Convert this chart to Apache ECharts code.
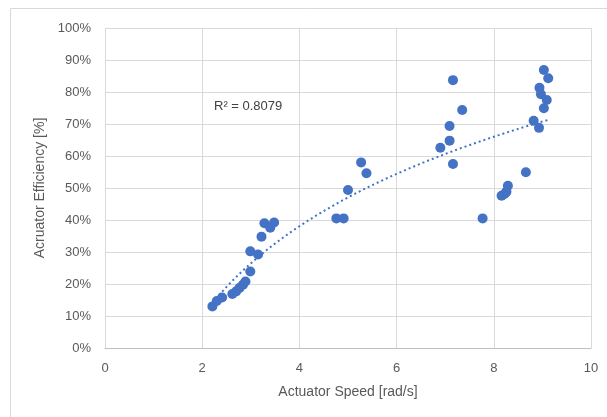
<!DOCTYPE html>
<html>
<head>
<meta charset="utf-8">
<script src="https://cdn.jsdelivr.net/npm/echarts@6/dist/echarts.min.js"></script>
<style>
  html, body { margin: 0; padding: 0; background: #fff; }
  #chart { width: 607px; height: 417px; }
</style>
</head>
<body>
<div id="chart"></div>
<script>
// actuator speed [rad/s] vs efficiency [%]
const speed = [2.21, 2.30, 2.41, 2.62, 2.70, 2.77, 2.84, 2.89, 2.99, 2.99, 3.15, 3.22, 3.28, 3.40, 3.48,
  4.76, 4.91, 5.00, 5.27, 5.38,
  6.90, 7.09, 7.09, 7.16, 7.16, 7.35, 7.77,
  8.16, 8.22, 8.26, 8.29, 8.66, 8.82, 8.93, 8.94, 8.97, 9.03, 9.03, 9.09, 9.12]
const efficiency = [13.0, 14.7, 15.8, 16.9, 17.7, 18.8, 19.8, 20.8, 23.9, 30.2, 29.2, 34.8, 39.0, 37.6, 39.2,
  40.5, 40.5, 49.4, 58.0, 54.6,
  62.6, 69.4, 64.8, 83.7, 57.5, 74.4, 40.5,
  47.6, 48.1, 48.8, 50.7, 54.9, 71.0, 68.8, 81.3, 79.3, 86.9, 74.9, 77.5, 84.3]
const xTicks = [0, 2, 4, 6, 8, 10]
const yTicks = [0, 10, 20, 30, 40, 50, 60, 70, 80, 90, 100]
const r2Label = 'R² = 0.8079'

const points = speed.map((s, i) => [s, efficiency[i]])

// logarithmic trendline y = a*ln(x) + b, least squares on the points
const lx = speed.map(s => Math.log(s))
const n = lx.length
const mx = lx.reduce((p, c) => p + c, 0) / n
const my = efficiency.reduce((p, c) => p + c, 0) / n
let sxy = 0, sxx = 0
lx.forEach((v, i) => { sxy += (v - mx) * (efficiency[i] - my); sxx += (v - mx) * (v - mx) })
const a = sxy / sxx
const b = my - a * mx
const xMin = Math.min(...speed), xMax = Math.max(...speed)
const trend = []
for (let k = 0; k <= 60; k++) {
  const x = xMin + (xMax - xMin) * k / 60
  trend.push([x, a * Math.log(x) + b])
}

const font = '"Liberation Sans", Arial, sans-serif'
const chart = echarts.init(document.getElementById('chart'), null, { renderer: 'canvas' })
chart.setOption({
  animation: false,
  grid: { left: 105, right: 16, top: 28, bottom: 69 },
  graphic: [
    {
      type: 'rect',
      shape: { x: 10.5, y: 8.5, width: 620, height: 430 },
      style: { fill: 'none', stroke: '#d9d9d9', lineWidth: 1 },
      silent: true
    },
    {
      type: 'text',
      left: 214,
      top: 100,
      style: { text: r2Label, fill: '#404040', font: '13px ' + font }
    }
  ],
  xAxis: {
    type: 'value',
    min: xTicks[0],
    max: xTicks[xTicks.length - 1],
    interval: 2,
    name: 'Actuator Speed [rad/s]',
    nameLocation: 'middle',
    nameGap: 37,
    nameTextStyle: { color: '#595959', fontSize: 14, fontFamily: font },
    axisLine: { show: true, lineStyle: { color: '#bfbfbf' } },
    axisTick: { show: false },
    axisLabel: { color: '#595959', fontSize: 13, fontFamily: font, margin: 14 },
    splitLine: { show: true, lineStyle: { color: '#d9d9d9' } }
  },
  yAxis: {
    type: 'value',
    min: yTicks[0],
    max: yTicks[yTicks.length - 1],
    interval: 10,
    name: 'Acruator Efficiency [%]',
    nameLocation: 'middle',
    nameGap: 54,
    nameTextStyle: { color: '#595959', fontSize: 14, fontFamily: font },
    axisLine: { show: false },
    axisTick: { show: false },
    axisLabel: { color: '#595959', fontSize: 13, fontFamily: font, margin: 14, formatter: v => v + '%' },
    splitLine: { show: true, lineStyle: { color: '#d9d9d9' } }
  },
  series: [
    {
      name: 'trend',
      type: 'line',
      data: trend,
      showSymbol: false,
      smooth: false,
      lineStyle: { color: '#4472c4', width: 2, type: [2, 3] },
      z: 3
    },
    {
      name: 'efficiency',
      type: 'scatter',
      data: points,
      symbolSize: 10,
      itemStyle: { color: '#4472c4', opacity: 1 },
      z: 4
    }
  ]
})
</script>
</body>
</html>
